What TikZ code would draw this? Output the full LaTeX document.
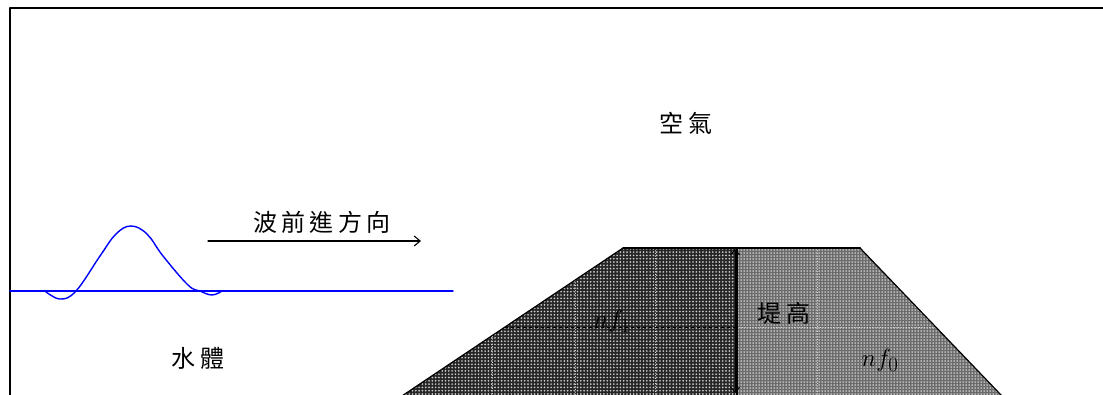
\documentclass[tikz,border=0pt]{standalone}
\usepackage{fontspec}
\newfontfamily\cjk[LetterSpace=18]{Noto Sans CJK TC}
\usetikzlibrary{arrows.meta,patterns.meta}

\begin{document}
\begin{tikzpicture}[x=1pt,y=-1pt,line join=round,line cap=round,
		tag/.style={font=\cjk\fontsize{24}{24}\selectfont,inner sep=0pt},
		sym/.style={font=\fontsize{28}{28}\selectfont,inner sep=0pt},
		wave/.style={blue,line width=1.4pt},
		seam/.style={white!85!black,dotted,line width=.6pt}]
		\useasboundingbox (0,0) rectangle (1103,394);
		\clip (0,0) rectangle (1103,394);
		% frame
		\draw[line width=2pt] (9.5,420) -- (9.5,7.5) -- (1120,7.5);
		% dam outline points
		\coordinate (crestL) at (623,248);
		\coordinate (crestM) at (737,248);
		\coordinate (crestR) at (860,248);
		\coordinate (toeL) at (366,420);
		\coordinate (toeM) at (737,420);
		\coordinate (toeR) at (1025,420);
		\def\sea{(toeL) -- (crestL) -- (crestM) -- (toeM) -- cycle}
		\def\land{(crestM) -- (crestR) -- (toeR) -- (toeM) -- cycle}
		\fill[black!85] \sea;
		\fill[pattern={Dots[radius=.95pt,distance=3.3pt]},pattern color=white!80!black] \sea;
		\fill[black!58] \land;
		\fill[pattern={Dots[radius=.75pt,distance=3pt]},pattern color=white] \land;
		% faint seams of the fill
		\foreach \x/\y in {492/336,575/280,655/248}
		\draw[seam] (\x,\y) -- (\x,400);
		\draw[seam] (817,248) -- (817,400);
		\draw[seam] (737,327) -- (936,327);
		\draw[dashed,line width=.7pt] (505,327) -- (737,327);
		\draw[line width=1.2pt] (toeL) -- (crestL);
		\draw[line width=1.2pt] (crestR) -- (toeR);
		\draw[line width=2pt] (crestL) -- (crestR);
		\draw[line width=1.2pt] (crestM) -- (toeM);
		% dam height
		\coordinate (hTop) at (735,249);
		\coordinate (hBot) at (735,393);
		\draw[{Straight Barb[length=5pt,width=9pt]}-{Straight Barb[length=5pt,width=9pt]},line width=1pt] (hTop) -- (hBot);
		% water surface and wave
		\coordinate (shore) at (10,291);
		\coordinate (sea) at (453,291);
		\draw[wave] (shore) -- (sea);
		\draw[wave] plot[smooth,tension=.65] coordinates {(45,291) (60,299) (76,291) (100,256) (116,234) (131,226) (147,234) (163,256) (188,285) (200,291) (212,295) (222,291)};
		% direction of travel
		\coordinate (goFrom) at (208,241);
		\coordinate (goTo) at (421,241);
		\draw[-{Straight Barb[length=6pt,width=10pt]},line width=1.1pt] (goFrom) -- (goTo);
		\node[tag] (dir) at (322,222) {波前進方向};
		\node[tag] (air) at (686,123) {空氣};
		\node[tag] (water) at (198,358) {水體};
		\node[tag] (height) at (784,313) {堤高};
		\node[sym] (nfA) at (612,321) {$nf_1$};
		\node[sym] (nfB) at (880,360) {$nf_0$};
\end{tikzpicture}
\end{document}
